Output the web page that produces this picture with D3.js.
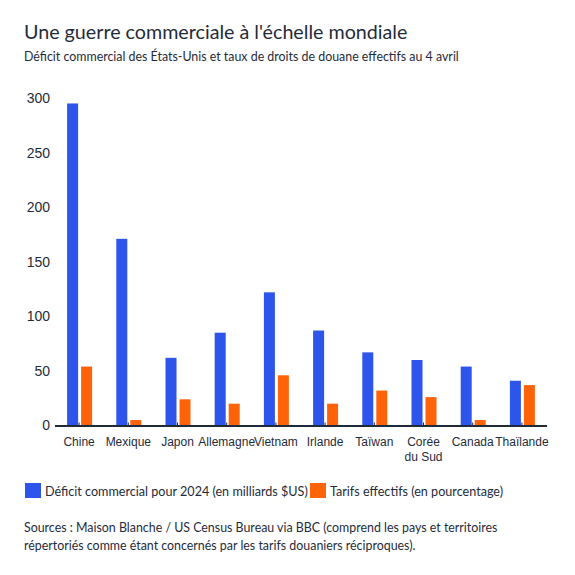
<!DOCTYPE html>
<html><head><meta charset="utf-8">
<script src="https://cdn.jsdelivr.net/npm/d3@7"></script>
<style>
body{margin:0;background:#fff;}
svg{display:block;font-family:Lato,"Noto Sans",sans-serif;}
</style></head><body>
<svg id="c" width="575" height="575"></svg>
<script>
const categories = ["Chine","Mexique","Japon","Allemagne","Vietnam","Irlande","Taïwan","Corée du Sud","Canada","Thaïlande"];
const deficit = [295,171,62,85,122,87,67,60,54,41];
const tarifs = [54,5,24,20,46,20,32,26,5,37];
const yTicks = [0,50,100,150,200,250,300];
const seriesNames = ["Déficit commercial pour 2024 (en milliards $US)","Tarifs effectifs (en pourcentage)"];
const colors = ["#2d55eb","#ff6309"];
const ink = "#1f2b3a";

const svg = d3.select("#c");
svg.append("text").attr("x",24).attr("y",39).attr("font-size",19.7).attr("fill",ink)
  .text("Une guerre commerciale à l'échelle mondiale");
svg.append("text").attr("x",24).attr("y",61).attr("font-size",12.4).attr("fill",ink)
  .text("Déficit commercial des États-Unis et taux de droits de douane effectifs au 4 avril");

const x = d3.scaleBand().domain(categories).range([54.5,546.5]);
const y = d3.scaleLinear().domain([0,300]).range([425.5,98]);

const g = svg.append("g");
const ya = g.append("g").attr("transform","translate(50,0)")
  .call(d3.axisLeft(y).tickValues(yTicks).tickSize(0).tickPadding(0));
ya.select(".domain").remove();
ya.selectAll("text").attr("font-size",14).attr("fill",ink).attr("font-family",null);

const grp = g.selectAll("g.grp").data(categories).join("g")
  .attr("transform",d=>`translate(${x(d)+x.bandwidth()/2},0)`);
grp.append("rect").attr("x",-12).attr("width",11)
  .attr("y",(d,i)=>y(deficit[i])).attr("height",(d,i)=>y(0)-y(deficit[i])).attr("fill",colors[0]);
grp.append("rect").attr("x",2).attr("width",11)
  .attr("y",(d,i)=>y(tarifs[i])).attr("height",(d,i)=>y(0)-y(tarifs[i])).attr("fill",colors[1]);

const xa = g.append("g").attr("transform",`translate(0,${y(0)})`)
  .call(d3.axisBottom(x).tickSize(3).tickPadding(9).tickSizeOuter(0));
xa.select(".domain").attr("stroke",ink).attr("stroke-width",2);
xa.selectAll(".tick line").attr("stroke",ink).attr("transform","translate(0,-3)");
xa.selectAll("text").attr("font-size",12).attr("fill",ink).attr("font-family",null)
  .each(function(d){
    const t = d3.select(this); const words = d==="Corée du Sud" ? ["Corée","du Sud"] : [d];
    t.text(null);
    words.forEach((w,k)=>t.append("tspan").attr("x",0).attr("dy",k===0?"0.71em":"1.25em").text(w));
  });

const lg = svg.append("g");
const lx = [25,310];
seriesNames.forEach((s,i)=>{
  lg.append("rect").attr("x",lx[i]).attr("y",483).attr("width",16).attr("height",15).attr("fill",colors[i]);
  lg.append("text").attr("x",lx[i]+20).attr("y",496).attr("font-size",12.6).attr("fill",ink).text(s);
});
const src = ["Sources : Maison Blanche / US Census Bureau via BBC (comprend les pays et territoires",
  "répertoriés comme étant concernés par les tarifs douaniers réciproques)."];
src.forEach((s,i)=>svg.append("text").attr("x",24).attr("y",532+i*18).attr("font-size",12.4).attr("fill",ink).text(s));
</script></body></html>
